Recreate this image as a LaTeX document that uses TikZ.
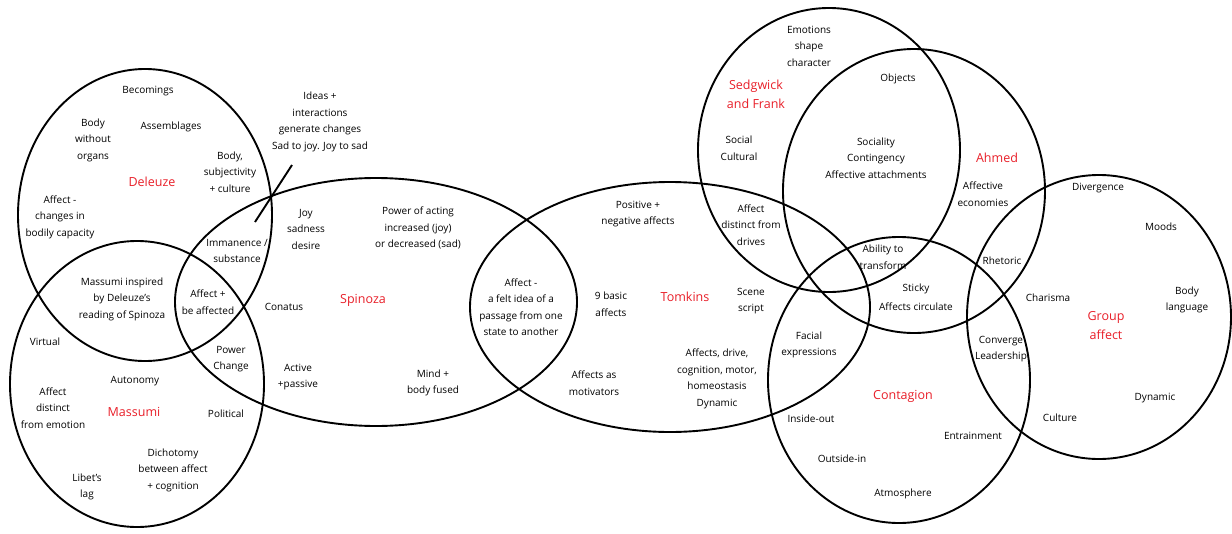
\documentclass[tikz,border=0pt]{standalone}
\usepackage{fontspec}
\setmainfont{Open Sans}
\definecolor{labelred}{RGB}{232,30,40}
\tikzset{
  ring/.style={draw=black, line width=1.9pt},
  txt/.style={align=center, inner sep=0pt, font=\fontsize{10}{16.5}\selectfont},
  title/.style={align=center, inner sep=0pt, text=labelred, font=\fontsize{12.5}{19}\selectfont}
}
\begin{document}
\begin{tikzpicture}[x=1pt,y=-1pt]
\useasboundingbox (0,0) rectangle (1232,533);

% theorist regions
\draw[ring] (145,215) ellipse [x radius=127, y radius=146];   % Deleuze
\draw[ring] (137,384) ellipse [x radius=127, y radius=143];   % Massumi
\draw[ring] (376,302) ellipse [x radius=201, y radius=124];   % Spinoza
\draw[ring] (670,307) ellipse [x radius=200, y radius=125];   % Tomkins
\draw[ring] (829,150) ellipse [x radius=131, y radius=142];   % Sedgwick and Frank
\draw[ring] (914,191) ellipse [x radius=131, y radius=142];   % Ahmed
\draw[ring] (899,380) ellipse [x radius=131, y radius=143];   % Contagion
\draw[ring] (1099,317) ellipse [x radius=132, y radius=142];  % Group affect

% pointer to the Deleuze/Spinoza crossing
\draw[line width=1.9pt] (292,165) -- (255,222);

% Deleuze
\node[title] (deleuze) at (152,182) {Deleuze};
\node[txt] (becomings) at (148,91) {Becomings};
\node[txt] (bwo) at (93,140) {Body\\without\\organs};
\node[txt] (assemblages) at (171,127) {Assemblages};
\node[txt] (bodysubj) at (230,172) {Body,\\subjectivity\\+ culture};
\node[txt] (capacity) at (60,217) {Affect -\\changes in\\bodily capacity};
\node[txt] (immanence) at (237,251) {Immanence /\\substance};
\node[txt] (inspired) at (122,299) {Massumi inspired\\by Deleuze's\\reading of Spinoza};
\node[txt] (beaffected) at (208,302) {Affect +\\be affected};

% Massumi
\node[title] (massumi) at (134,412) {Massumi};
\node[txt] (virtual) at (45,342) {Virtual};
\node[txt] (power) at (231,359) {Power\\Change};
\node[txt] (autonomy) at (135,381) {Autonomy};
\node[txt] (distinctemo) at (53,408) {Affect\\distinct\\from emotion};
\node[txt] (political) at (226,414) {Political};
\node[txt] (dichotomy) at (173,470) {Dichotomy\\between affect\\+ cognition};
\node[txt] (libet) at (87,487) {Libet's\\lag};

% Spinoza
\node[txt] (ideas) at (320,122) {Ideas +\\interactions\\generate changes\\Sad to joy. Joy to sad};
\node[title] (spinoza) at (363,300) {Spinoza};
\node[txt] (joy) at (306,229) {Joy\\sadness\\desire};
\node[txt] (acting) at (418,228) {Power of acting\\increased (joy)\\or decreased (sad)};
\node[txt] (conatus) at (284,307) {Conatus};
\node[txt] (active) at (298,377) {Active\\+passive};
\node[txt] (mind) at (433,383) {Mind +\\body fused};
\node[txt] (feltidea) at (521,307) {Affect -\\a felt idea of a\\passage from one\\state to another};

% Tomkins
\node[title] (tomkins) at (685,297) {Tomkins};
\node[txt] (posneg) at (638,214) {Positive +\\negative affects};
\node[txt] (ninebasic) at (611,304) {9 basic\\affects};
\node[txt] (scene) at (751,301) {Scene\\script};
\node[txt] (motivators) at (594,383) {Affects as\\motivators};
\node[txt] (drive) at (717,379) {Affects, drive,\\cognition, motor,\\homeostasis\\Dynamic};
\node[txt] (distinctdrv) at (751,225) {Affect\\distinct from\\drives};

% Sedgwick and Frank, Ahmed
\node[title] (sedgwick) at (756,94) {Sedgwick\\and Frank};
\node[txt] (character) at (809,46) {Emotions\\shape\\character};
\node[txt] (social) at (739,148) {Social\\Cultural};
\node[txt] (objects) at (898,79) {Objects};
\node[txt] (sociality) at (876,158) {Sociality\\Contingency\\Affective attachments};
\node[title] (ahmed) at (997,158) {Ahmed};
\node[txt] (economies) at (983,194) {Affective\\economies};
\node[txt] (transform) at (883,257) {Ability to\\transform};
\node[txt] (sticky) at (916,297) {Sticky\\[2pt]Affects circulate};
\node[txt] (rhetoric) at (1002,261) {Rhetoric};

% Contagion
\node[title] (contagion) at (903,396) {Contagion};
\node[txt] (facial) at (809,345) {Facial\\expressions};
\node[txt] (converge) at (1001,349) {Converge\\Leadership};
\node[txt] (insideout) at (811,419) {Inside-out};
\node[txt] (entrain) at (973,436) {Entrainment};
\node[txt] (outsidein) at (842,459) {Outside-in};
\node[txt] (atmos) at (903,494) {Atmosphere};

% Group affect
\node[title] (group) at (1106,326) {Group\\affect};
\node[txt] (divergence) at (1098,188) {Divergence};
\node[txt] (moods) at (1161,227) {Moods};
\node[txt] (charisma) at (1048,298) {Charisma};
\node[txt] (bodylang) at (1187,300) {Body\\language};
\node[txt] (dynamic) at (1155,398) {Dynamic};
\node[txt] (culture) at (1060,418) {Culture};
\end{tikzpicture}
\end{document}
